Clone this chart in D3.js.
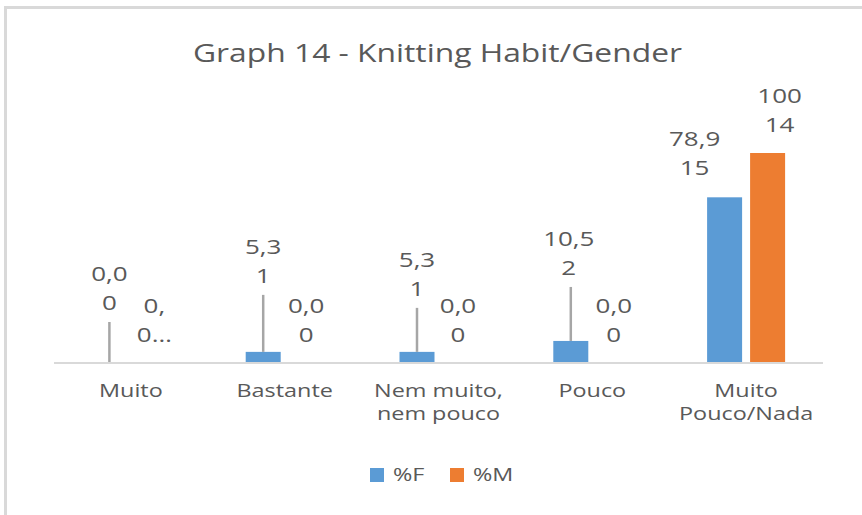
<!DOCTYPE html>
<html>
<head>
<meta charset="utf-8">
<script src="https://cdn.jsdelivr.net/npm/d3@7"></script>
<style>
  body { margin: 0; background: #fff; }
  text { font-family: "Open Sans", "Noto Sans", sans-serif; fill: #595959; }
</style>
</head>
<body>
<div id="chart"></div>
<script>
// data
const categories = ["Muito", "Bastante", "Nem muito, nem pouco", "Pouco", "Muito Pouco/Nada"];
const categoryLines = [["Muito"], ["Bastante"], ["Nem muito,", "nem pouco"], ["Pouco"], ["Muito", "Pouco/Nada"]];
const series = ["%F", "%M"];
const pctF = [0.0, 5.3, 5.3, 10.5, 78.9];
const countF = [0, 1, 1, 2, 15];
const pctM = [0.0, 0.0, 0.0, 0.0, 100];
const countM = [0, 0, 0, 0, 14];

// where Excel put the (dragged) data labels: lift above bar top, sideways shift
const liftF = [89, 105, 92, 102, 58];
const shiftF = [0, 0, 0, -2, -30];
const liftM = [57, 57, 57, 57, 57];
const shiftM = [2, 0, -2, 0, 12];

const W = 862, H = 515;
const colors = {"%F": "#5B9BD5", "%M": "#ED7D31"};
const stretch = 1.3;

const svg = d3.select("#chart")
  .append("svg")
    .attr("width", W)
    .attr("height", H);

// chart frame (cut off on the right and bottom)
svg.append("rect")
  .attr("x", 5.5).attr("y", 7.5)
  .attr("width", 900).attr("height", 600)
  .attr("fill", "none")
  .attr("stroke", "#D9D9D9")
  .attr("stroke-width", 3);

// text drawn a bit wider than the font, like the picture
function wideText(g, x, y, str, size, anchor) {
  return g.append("text")
    .attr("transform", `translate(${x},${y}) scale(${stretch},1)`)
    .attr("font-size", size)
    .attr("text-anchor", anchor || "middle")
    .attr("dy", "0.35em")
    .text(str);
}

// title
svg.append("text")
  .attr("x", 193).attr("y", 62)
  .attr("font-size", 26)
  .attr("textLength", 489)
  .attr("lengthAdjust", "spacingAndGlyphs")
  .text("Graph 14 - Knitting Habit/Gender");

const x = d3.scaleBand()
  .domain(categories)
  .range([54, 823]);

const bw = x.bandwidth();
const xs = d3.scaleBand()
  .domain(series)
  .range([bw / 2 - 39, bw / 2 + 39])
  .paddingInner(0.186);

const y = d3.scaleLinear()
  .domain([0, 100])
  .range([363, 153]);

const rows = categories.map((c, i) => ({
  cat: c, i: i,
  vals: [
    {s: "%F", v: pctF[i], n: countF[i], lift: liftF[i], shift: shiftF[i]},
    {s: "%M", v: pctM[i], n: countM[i], lift: liftM[i], shift: shiftM[i]}
  ]
}));

const fmt = v => v === 100 ? "100" : d3.format(".1f")(v).replace(".", ",");

// bars
const groups = svg.selectAll(".cat")
  .data(rows)
  .join("g")
    .attr("class", "cat")
    .attr("transform", d => `translate(${x(d.cat)},0)`);

groups.selectAll("rect")
  .data(d => d.vals)
  .join("rect")
    .attr("x", d => xs(d.s))
    .attr("width", xs.bandwidth())
    .attr("y", d => y(d.v))
    .attr("height", d => y(0) - y(d.v))
    .attr("fill", d => colors[d.s]);

// axis line
svg.append("line")
  .attr("x1", 54).attr("x2", 823)
  .attr("y1", y(0)).attr("y2", y(0))
  .attr("stroke", "#D9D9D9")
  .attr("stroke-width", 2);

// data labels with leader lines
const lineGap = 29;
groups.each(function(d) {
  const g = d3.select(this);
  d.vals.forEach(v => {
    const cx = xs(v.s) + xs.bandwidth() / 2;
    const top = y(v.v);
    const ly = top - v.lift;
    const lx = cx + v.shift;
    if (v.lift > 70) {
      g.append("line")
        .attr("x1", cx).attr("x2", cx)
        .attr("y1", top).attr("y2", ly + lineGap + 19)
        .attr("stroke", "#A6A6A6")
        .attr("stroke-width", 2.5);
    }
    let lines = [fmt(v.v), String(v.n)];
    // the narrow label on the first male bar is cut off by Excel
    if (d.i === 0 && v.s === "%M") lines = ["0,", "0…"];
    lines.forEach((t, k) => wideText(g, lx, ly + k * lineGap, t, 20));
  });
});

// category labels
rows.forEach((d, i) => {
  categoryLines[i].forEach((t, k) => {
    wideText(svg, x(d.cat) + bw / 2, 391 + k * 23, t, 18);
  });
});

// legend
const legend = svg.append("g");
const legendX = [370, 450];
series.forEach((s, i) => {
  legend.append("rect")
    .attr("x", legendX[i]).attr("y", 468)
    .attr("width", 14).attr("height", 14)
    .attr("fill", colors[s]);
  wideText(legend, legendX[i] + 23, 475, s, 18, "start");
});
</script>
</body>
</html>
